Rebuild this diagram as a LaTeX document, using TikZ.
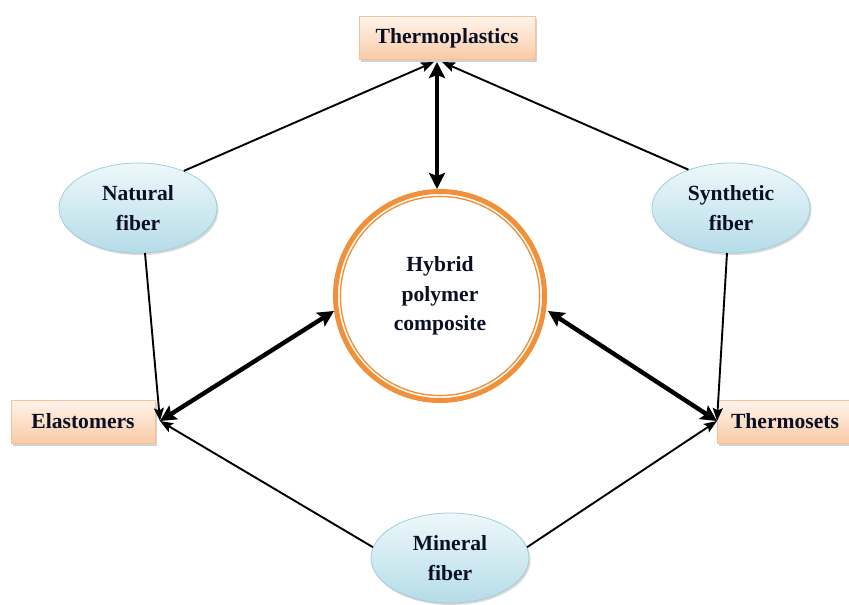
\documentclass[tikz,border=0pt]{standalone}
\usepackage{fontspec}
\setmainfont{Liberation Serif}
\usetikzlibrary{shapes.geometric,shadows,arrows.meta}
\definecolor{txt}{HTML}{0A0F24}
\definecolor{peachtop}{HTML}{FFF4EB}
\definecolor{peachbot}{HTML}{F9CBA6}
\definecolor{peachline}{HTML}{F5C29C}
\definecolor{bluetop}{HTML}{EEF8FB}
\definecolor{bluebot}{HTML}{B5DCE8}
\definecolor{blueline}{HTML}{9FCEDD}
\definecolor{ring}{HTML}{F0913A}
\tikzset{
  material/.style={rectangle, draw=peachline, line width=0.8pt,
    top color=peachtop, bottom color=peachbot, inner sep=0pt,
    minimum height=43pt, text=txt,
    drop shadow={shadow xshift=2pt, shadow yshift=-2.5pt, opacity=0.3, fill=black!60}},
  fiber/.style={ellipse, draw=blueline, line width=0.8pt,
    top color=bluetop, bottom color=bluebot, inner sep=0pt,
    minimum width=158pt, minimum height=90pt, align=center, text=txt,
    drop shadow={shadow xshift=1.5pt, shadow yshift=-2pt, opacity=0.25, fill=black!60}},
  link/.style={line width=1.9pt, -{Stealth[length=13pt,width=10pt,inset=2.5pt]}},
  bond/.style={line width=4.4pt, {Stealth[length=16pt,width=16pt,inset=3pt]}-{Stealth[length=16pt,width=16pt,inset=3pt]}}
}
\begin{document}
\begin{tikzpicture}[x=1pt,y=-1pt, font=\fontsize{21.6}{29.5}\selectfont\bfseries]
\useasboundingbox (0,0) rectangle (849,605);

% central hybrid composite ring
\node[circle, draw=ring, line width=5pt, minimum size=209pt, inner sep=0pt,
      align=center, text=txt] (hy) at (440,296) {Hybrid\\polymer\\composite};
\draw[ring, line width=1.4pt] (hy.center) circle (99.6);

% matrix boxes
\node[material, minimum width=176pt] (tp) at (447,38) {Thermoplastics};
\node[material, minimum width=144pt] (el) at (83,421.5) {Elastomers};
\node[material, minimum width=136pt] (ts) at (785,421.5) {Thermosets};

% fiber ellipses
\node[fiber] (nf) at (138,208) {Natural\\fiber};
\node[fiber] (sf) at (731,208) {Synthetic\\fiber};
\node[fiber] (mf) at (450,558) {Mineral\\fiber};

% attachment points
\coordinate (tpl) at (434,62);
\coordinate (tpr) at (442,62);
\coordinate (tpc) at (437,62);
\coordinate (hyt) at (437,189);
\coordinate (hyl) at (334,311);
\coordinate (hyr) at (548,311);
\coordinate (elr) at (160,421);
\coordinate (tsl) at (717,421);
\coordinate (nfb) at (145,253);
\coordinate (sfb) at (727,253);

% fibers to matrices
\draw[link] (nf.39) -- (tpl);
\draw[link] (sf.138) -- (tpr);
\draw[link] (nfb) -- (elr);
\draw[link] (mf.172) -- (elr);
\draw[link] (sfb) -- (tsl);
\draw[link] (mf.8) -- (tsl);

% matrices to the hybrid composite
\draw[bond] (tpc) -- (hyt);
\draw[bond] (elr) -- (hyl);
\draw[bond] (tsl) -- (hyr);
\end{tikzpicture}
\end{document}
